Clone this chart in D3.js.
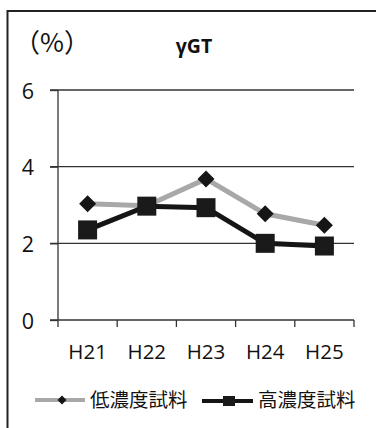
<!DOCTYPE html>
<html><head><meta charset="utf-8">
<script src="https://cdn.jsdelivr.net/npm/d3@7/dist/d3.min.js"></script>
<style>body{margin:0;background:#fff}svg{display:block}</style>
</head><body>
<script>
const categories = ["H21","H22","H23","H24","H25"];
const lowValues = [3.03, 2.98, 3.68, 2.77, 2.47];
const highValues = [2.35, 2.97, 2.93, 2.0, 1.93];
const yTicks = [0, 2, 4, 6];
const seriesNames = ["低濃度試料", "高濃度試料"];

const W = 378, H = 428;
const svg = d3.select("body").append("svg").attr("width", W).attr("height", H);
const latin = "'Open Sans','Noto Sans',sans-serif";
const cjk = "'Noto Sans CJK JP','Noto Sans CJK SC',sans-serif";

// frame
svg.append("path").attr("d", "M7.5,430 L7.5,11 L376,11").attr("fill","none").attr("stroke","#222").attr("stroke-width",2);

const x = d3.scaleBand().domain(categories).range([58, 354]);
const y = d3.scaleLinear().domain([0, 6]).range([320, 90]);

// gridlines
svg.append("g").selectAll("line").data(yTicks.filter(d=>d>0)).join("line")
  .attr("x1", 50).attr("x2", 354).attr("y1", d=>y(d)).attr("y2", d=>y(d))
  .attr("stroke", "#333").attr("stroke-width", 1.3);

// y axis
const yAxis = svg.append("g").attr("transform","translate(58,0)")
  .call(d3.axisLeft(y).tickValues(yTicks).tickSize(8).tickPadding(18).tickFormat(d3.format("d")));
yAxis.select(".domain").attr("stroke","#333").attr("stroke-width",1.3).attr("d","M0,90V320");
yAxis.selectAll(".tick line").attr("stroke","#333").attr("stroke-width",1.3);
yAxis.selectAll("text").attr("font-family", latin).attr("font-size", 21.5).attr("fill","#111")
  .attr("text-anchor","middle").attr("x",-30).attr("dy",null).attr("y",8);

// x axis
const xAxis = svg.append("g").attr("transform","translate(0,320)");
xAxis.append("line").attr("x1",50).attr("x2",354).attr("y1",0).attr("y2",0).attr("stroke","#333").attr("stroke-width",1.3);
const edges = categories.map(c => x(c)).concat([x.range()[1]]);
xAxis.selectAll("line.t").data(edges).join("line").attr("class","t")
  .attr("x1", d=>d).attr("x2", d=>d).attr("y1",0).attr("y2",7).attr("stroke","#333").attr("stroke-width",1.3);
xAxis.selectAll("text").data(categories).join("text")
  .attr("x", d=>x(d)+x.bandwidth()/2).attr("y", 38.5).attr("text-anchor","middle")
  .attr("font-family", latin).attr("font-size", 20.5).attr("fill","#111").text(d=>d);

// titles
svg.append("text").attr("x", 52).attr("y", 52).attr("text-anchor","middle").attr("font-family", cjk).attr("font-size", 26).attr("fill","#111").text("（%）");
svg.append("text").attr("x", 194).attr("y", 53).attr("text-anchor","middle").attr("font-family", latin).attr("font-size", 19.5).attr("font-weight","bold").attr("fill","#111").text("γGT");

const cx = d => x(d) + x.bandwidth()/2;
const line = d3.line().x((d,i)=>cx(categories[i])).y(d=>y(d));

// low series
svg.append("path").datum(lowValues).attr("d", line).attr("fill","none").attr("stroke","#a8a8a8").attr("stroke-width",5);
svg.append("g").selectAll("path").data(lowValues).join("path")
  .attr("transform",(d,i)=>`translate(${cx(categories[i])},${y(d)})`)
  .attr("d","M0,-8.5L8.5,0L0,8.5L-8.5,0Z").attr("fill","#151515");

// high series
svg.append("path").datum(highValues).attr("d", line).attr("fill","none").attr("stroke","#151515").attr("stroke-width",5);
svg.append("g").selectAll("rect").data(highValues).join("rect")
  .attr("x",(d,i)=>cx(categories[i])-9.5).attr("y",d=>y(d)-9.5).attr("width",19).attr("height",19).attr("fill","#1a1a1a");

// legend
const ly = 400;
svg.append("line").attr("x1",35).attr("x2",85).attr("y1",ly).attr("y2",ly).attr("stroke","#a8a8a8").attr("stroke-width",4);
svg.append("path").attr("transform",`translate(62,${ly})`).attr("d","M0,-4.5L4.5,0L0,4.5L-4.5,0Z").attr("fill","#151515");
svg.append("text").attr("x",90).attr("y",ly+7).attr("font-family",cjk).attr("font-size",19.5).attr("fill","#111").text(seriesNames[0]);
svg.append("line").attr("x1",202).attr("x2",253).attr("y1",ly+1).attr("y2",ly+1).attr("stroke","#151515").attr("stroke-width",4);
svg.append("rect").attr("x",223).attr("y",ly-4).attr("width",12).attr("height",10).attr("fill","#1a1a1a");
svg.append("text").attr("x",258).attr("y",ly+7).attr("font-family",cjk).attr("font-size",19.5).attr("fill","#111").text(seriesNames[1]);
</script>
</body></html>
